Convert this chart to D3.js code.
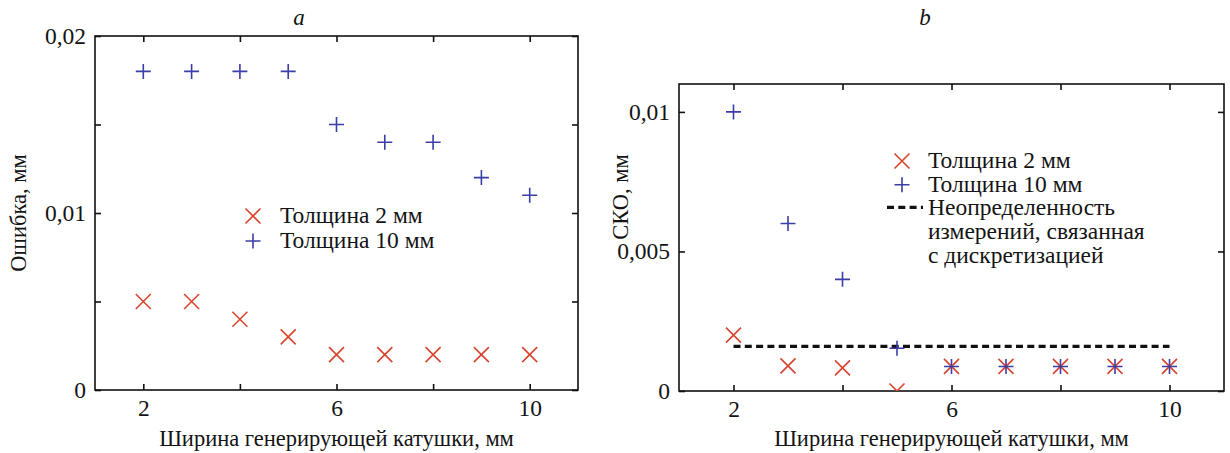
<!DOCTYPE html>
<html lang="ru">
<head>
    <meta charset="UTF-8">
    <title>Ошибка и СКО</title>
    <script src="https://d3js.org/d3.v7.min.js"></script>
    <style type="text/css">
        body { margin: 0; background: #fff; }
        text { font-family: "Liberation Serif", "Times New Roman", serif; fill: #141414; }
    </style>
</head>
    <body>
        <script type="text/javascript">

        var w = 1230;
        var h = 453;

        // coil widths, mm
        var widths = [2, 3, 4, 5, 6, 7, 8, 9, 10];

        // panel a: error, mm
        var errThin = [0.005, 0.005, 0.004, 0.003, 0.002, 0.002, 0.002, 0.002, 0.002];
        var errThick = [0.018, 0.018, 0.018, 0.018, 0.015, 0.014, 0.014, 0.012, 0.011];

        // panel b: standard deviation, mm
        var sdThin = [0.002, 0.0009, 0.00083, 0.0, 0.00088, 0.00088, 0.00088, 0.00088, 0.00088];
        var sdThick = [0.01, 0.006, 0.004, 0.00153, 0.00088, 0.00088, 0.00088, 0.00088, 0.00088];
        var discretization = 0.0016;

        var xTicks = [2, 4, 6, 8, 10];
        var xLabels = [2, 6, 10];
        var yTicksA = [0, 0.005, 0.01, 0.015, 0.02];
        var yLabelsA = [0, 0.01, 0.02];
        var yTicksB = [0, 0.005, 0.01];
        var yLabelsB = [0, 0.005, 0.01];

        var red = "#d9442f";
        var blue = "#3a3ea6";

        var svg = d3.select("body")
            .append("svg")
            .attr("width", w)
            .attr("height", h);

        function fmt(d) { return String(d).replace(".", ","); }

        function drawPanel(cfg) {
            var xScale = d3.scaleLinear().domain([1, 11]).range([cfg.left, cfg.right]);
            var yScale = d3.scaleLinear().domain(cfg.yDomain).range([cfg.bottom, cfg.top]);
            var g = svg.append("g");

            // clip so markers on the axis get cut like in the original
            g.append("clipPath").attr("id", cfg.id)
                .append("rect")
                .attr("x", cfg.left).attr("y", cfg.top)
                .attr("width", cfg.right - cfg.left).attr("height", cfg.bottom - cfg.top);

            var xLab = function(d) { return xLabels.indexOf(d) >= 0 ? fmt(d) : ""; };
            var yLab = function(d) { return cfg.yLabels.indexOf(d) >= 0 ? fmt(d) : ""; };

            g.append("g").attr("transform", "translate(0," + cfg.bottom + ")")
                .call(d3.axisBottom(xScale).tickValues(xTicks).tickFormat(xLab)
                    .tickSizeInner(-6).tickSizeOuter(0).tickPadding(9));
            g.append("g").attr("transform", "translate(0," + cfg.top + ")")
                .call(d3.axisTop(xScale).tickValues(xTicks).tickFormat("")
                    .tickSizeInner(-6).tickSizeOuter(0));
            g.append("g").attr("transform", "translate(" + cfg.left + ",0)")
                .call(d3.axisLeft(yScale).tickValues(cfg.yTicks).tickFormat(yLab)
                    .tickSizeInner(-6).tickSizeOuter(0).tickPadding(9));
            g.append("g").attr("transform", "translate(" + cfg.right + ",0)")
                .call(d3.axisRight(yScale).tickValues(cfg.yTicks).tickFormat("")
                    .tickSizeInner(-6).tickSizeOuter(0));

            g.selectAll(".domain").remove();
            g.selectAll(".tick line").attr("stroke", "#111").attr("stroke-width", 1.6);
            g.selectAll(".tick text").attr("font-size", "23.5px").attr("fill", "#141414")
                .attr("font-family", "Liberation Serif");

            g.append("rect")
                .attr("x", cfg.left).attr("y", cfg.top)
                .attr("width", cfg.right - cfg.left).attr("height", cfg.bottom - cfg.top)
                .attr("fill", "none").attr("stroke", "#111").attr("stroke-width", 1.6);

            var plot = g.append("g").attr("clip-path", "url(#" + cfg.id + ")");

            if (cfg.line != null) {
                plot.append("line")
                    .attr("x1", xScale(2)).attr("x2", xScale(10))
                    .attr("y1", yScale(cfg.line)).attr("y2", yScale(cfg.line))
                    .attr("stroke", "#111").attr("stroke-width", 3.2)
                    .attr("stroke-dasharray", "7,4.3");
            }

            plot.selectAll("path.thin")
                .data(cfg.thin)
                .enter()
                .append("path")
                .attr("class", "thin")
                .attr("d", function(d, i) { return crossPath(xScale(widths[i]), yScale(d), 7.5); })
                .attr("stroke", red).attr("stroke-width", 1.6).attr("fill", "none");

            plot.selectAll("path.thick")
                .data(cfg.thick)
                .enter()
                .append("path")
                .attr("class", "thick")
                .attr("d", function(d, i) { return plusPath(xScale(widths[i]), yScale(d), 7.5); })
                .attr("stroke", blue).attr("stroke-width", 1.6).attr("fill", "none");

            // titles
            svg.append("text")
                .attr("x", cfg.titleX).attr("y", 25)
                .attr("text-anchor", "middle")
                .attr("font-size", "23px").attr("font-style", "italic")
                .text(cfg.title);

            svg.append("text")
                .attr("x", (cfg.left + cfg.right) / 2).attr("y", 446)
                .attr("text-anchor", "middle")
                .attr("font-size", "22.5px")
                .text("Ширина генерирующей катушки, мм");

            svg.append("text")
                .attr("transform", "translate(" + cfg.yTitleX + "," + cfg.yTitleY + ") rotate(-90)")
                .attr("text-anchor", "middle")
                .attr("font-size", "22.5px")
                .text(cfg.yTitle);

            // legend
            var lg = svg.append("g");
            cfg.legend.forEach(function(row, i) {
                var by = cfg.legY + i * cfg.legStep;
                if (row.mark == "x") {
                    lg.append("path").attr("d", crossPath(cfg.legX, by - 7, 7.5))
                        .attr("stroke", red).attr("stroke-width", 1.6).attr("fill", "none");
                } else if (row.mark == "+") {
                    lg.append("path").attr("d", plusPath(cfg.legX, by - 7, 7.5))
                        .attr("stroke", blue).attr("stroke-width", 1.6).attr("fill", "none");
                } else if (row.mark == "-") {
                    lg.append("line")
                        .attr("x1", cfg.legX - 15).attr("x2", cfg.legX + 21)
                        .attr("y1", by - 8).attr("y2", by - 8)
                        .attr("stroke", "#111").attr("stroke-width", 3.2)
                        .attr("stroke-dasharray", "7,4.3");
                }
                lg.append("text")
                    .attr("x", cfg.legTextX).attr("y", by)
                    .attr("font-size", "23.5px")
                    .text(row.text);
            });
        }

        function crossPath(cx, cy, r) {
            return "M" + (cx - r) + "," + (cy - r) + "L" + (cx + r) + "," + (cy + r) +
                "M" + (cx - r) + "," + (cy + r) + "L" + (cx + r) + "," + (cy - r);
        }
        function plusPath(cx, cy, r) {
            return "M" + (cx - r) + "," + cy + "L" + (cx + r) + "," + cy +
                "M" + cx + "," + (cy - r) + "L" + cx + "," + (cy + r);
        }

        drawPanel({
            id: "clipA", title: "a", titleX: 299,
            left: 95, right: 578, top: 36, bottom: 390,
            yDomain: [0, 0.02], yTicks: yTicksA, yLabels: yLabelsA,
            thin: errThin, thick: errThick, line: null,
            yTitle: "Ошибка, мм", yTitleX: 26, yTitleY: 213,
            legX: 253, legTextX: 280, legY: 223, legStep: 25,
            legend: [{mark: "x", text: "Толщина 2 мм"}, {mark: "+", text: "Толщина 10 мм"}]
        });

        drawPanel({
            id: "clipB", title: "b", titleX: 925,
            left: 679, right: 1224, top: 84, bottom: 391,
            yDomain: [0, 0.011], yTicks: yTicksB, yLabels: yLabelsB,
            thin: sdThin, thick: sdThick, line: discretization,
            yTitle: "СКО, мм", yTitleX: 628, yTitleY: 197,
            legX: 902, legTextX: 928, legY: 168, legStep: 23.7,
            legend: [{mark: "x", text: "Толщина 2 мм"}, {mark: "+", text: "Толщина 10 мм"},
                {mark: "-", text: "Неопределенность"}, {mark: "", text: "измерений, связанная"},
                {mark: "", text: "с дискретизацией"}]
        });

        </script>
    </body>
</html>
